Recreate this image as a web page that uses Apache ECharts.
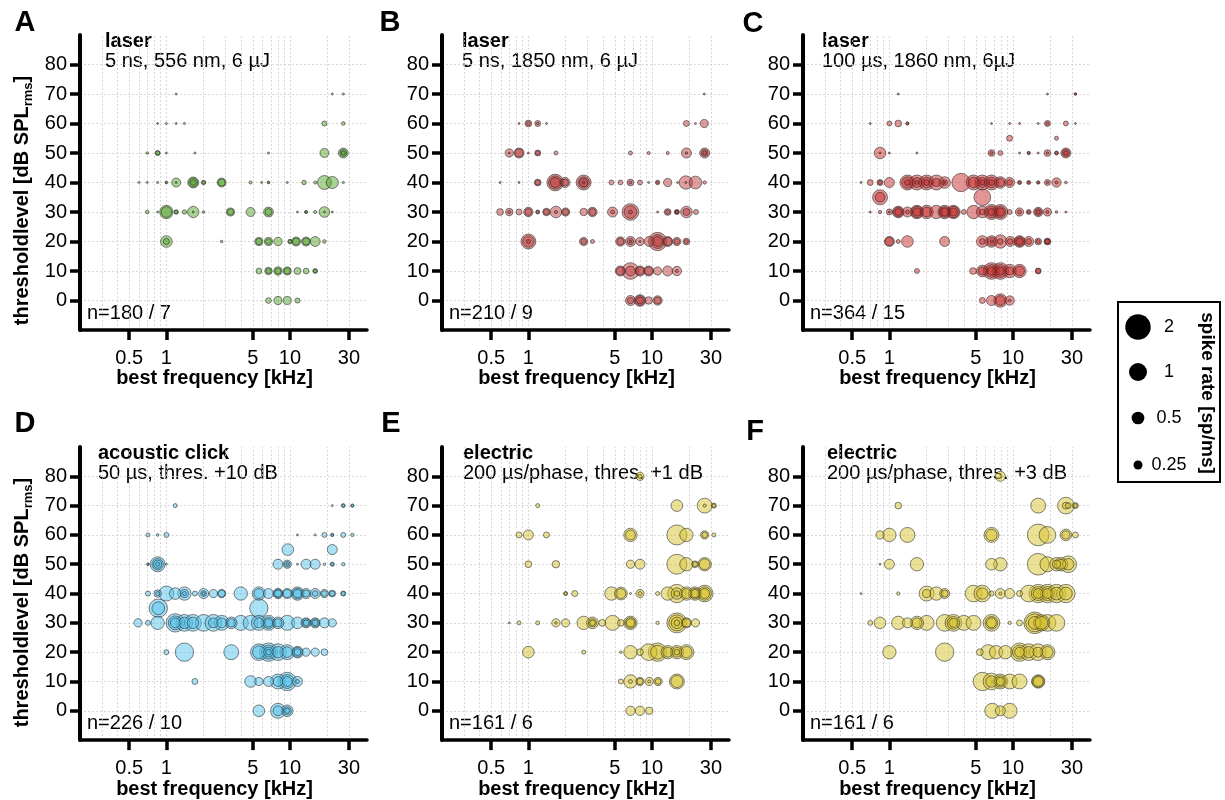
<!DOCTYPE html>
<html><head><meta charset="utf-8">
<script src="https://cdn.jsdelivr.net/npm/echarts@6/dist/echarts.min.js"></script>
<style>html,body{margin:0;padding:0;background:#fff}#c{width:1225px;height:800px}</style>
</head><body><div id="c"></div>
<script>
// ---------- data ----------
const xTicks = [0.5, 1, 5, 10, 30];
const yTicks = [0, 10, 20, 30, 40, 50, 60, 70, 80];
const gridFreqs = [0.3,0.4,0.5,0.6,0.7,0.8,0.9,1,2,3,4,5,6,7,8,9,10,20,30];
const panelLetters = ['A','B','C','D','E','F'];
const panelTitles = ['laser','laser','laser','acoustic click','electric','electric'];
const panelSubtitles = ['5 ns, 556 nm, 6 µJ','5 ns, 1850 nm, 6 µJ','100 µs, 1860 nm, 6µJ','50 µs, thres. +10 dB','200 µs/phase, thres. +1 dB','200 µs/phase, thres. +3 dB'];
const panelCounts = ['n=180 / 7','n=210 / 9','n=364 / 15','n=226 / 10','n=161 / 6','n=161 / 6'];
const legendRates = [2, 1, 0.5, 0.25];
const legendLabels = ['2','1','0.5','0.25'];

// [best frequency kHz, threshold dB, spike rate sp/ms]
const laser556 = [
[1.2,70,0.01],[22,70,0.01],[27,70,0.015],
[0.85,60,0.01],[1.0,60,0.012],[1.2,60,0.012],[1.4,60,0.015],[19,60,0.08],[27,60,0.04],
[0.7,50,0.02],[0.85,50,0.08],[0.85,50,0.05],[1.0,50,0.012],[1.7,50,0.012],[6.7,50,0.005],[19,50,0.25],[27,50,0.3],[27,50,0.15],[27,50,0.05],
[0.6,40,0.005],[0.7,40,0.01],[0.85,40,0.015],[1.0,40,0.02],[1.0,40,0.01],[1.2,40,0.25],[1.2,40,0.005],[1.65,40,0.37],[1.65,40,0.25],[1.65,40,0.1],[2.0,40,0.06],[2.0,40,0.03],[2.8,40,0.25],[2.8,40,0.15],[4.8,40,0.03],[5.9,40,0.005],[6.7,40,0.02],[6.7,40,0.015],[9.5,40,0.005],[13,40,0.06],[16,40,0.03],[19,40,0.6],[22,40,0.45],[27,40,0.015],
[0.7,30,0.04],[0.85,30,0.01],[1.0,30,0.55],[1.0,30,0.35],[1.2,30,0.06],[1.2,30,0.04],[1.4,30,0.06],[1.65,30,0.4],[1.65,30,0.005],[2.0,30,0.02],[3.3,30,0.2],[3.3,30,0.12],[4.8,30,0.25],[6.7,30,0.3],[6.7,30,0.15],[11.5,30,0.01],[13.5,30,0.03],[13.5,30,0.02],[16,30,0.03],[19,30,0.35],[19,30,0.005],[22,30,0.01],
[1.0,20,0.42],[1.0,20,0.12],[2.8,20,0.02],[5.6,20,0.2],[5.6,20,0.12],[6.7,20,0.2],[6.7,20,0.1],[8,20,0.22],[10,20,0.06],[10,20,0.04],[11.2,20,0.25],[11.2,20,0.15],[13.5,20,0.25],[13.5,20,0.15],[16,20,0.3],[19,20,0.04],
[5.6,10,0.1],[6.7,10,0.17],[6.7,10,0.08],[8,10,0.22],[8,10,0.12],[9.5,10,0.2],[9.5,10,0.12],[11.5,10,0.15],[13.5,10,0.1],[16,10,0.07],[16,10,0.04],
[6.7,0,0.1],[8,0,0.2],[9.5,0,0.2],[11.5,0,0.08]
];
const laser1850 = [
[26.5,70,0.008],
[0.84,60,0.008],[1.0,60,0.14],[1.0,60,0.05],[1.19,60,0.11],[1.19,60,0.02],[1.4,60,0.012],[19,60,0.11],[22.5,60,0.008],[26.5,60,0.21],
[0.7,50,0.21],[0.7,50,0.01],[0.84,50,0.31],[0.84,50,0.2],[1.0,50,0.01],[1.19,50,0.11],[1.19,50,0.06],[1.67,50,0.05],[6.7,50,0.05],[9.4,50,0.03],[13.4,50,0.03],[19,50,0.31],[19,50,0.02],[26.7,50,0.31],[26.7,50,0.15],[26.7,50,0.05],
[0.59,40,0.006],[0.84,40,0.006],[1.19,40,0.14],[1.19,40,0.08],[1.65,40,0.86],[1.65,40,0.55],[1.65,40,0.3],[1.98,40,0.31],[1.98,40,0.15],[2.8,40,0.69],[2.8,40,0.4],[2.8,40,0.2],[2.8,40,0.02],[4.7,40,0.077],[5.55,40,0.07],[6.7,40,0.14],[6.7,40,0.03],[8,40,0.077],[9.4,40,0.012],[11.1,40,0.06],[11.1,40,0.02],[13.4,40,0.21],[16.1,40,0.01],[18.8,40,0.55],[18.8,40,0.01],[22.5,40,0.5],[26.7,40,0.034],
[0.59,30,0.14],[0.7,30,0.17],[0.7,30,0.03],[0.84,30,0.11],[1.0,30,0.27],[1.0,30,0.15],[1.19,30,0.05],[1.19,30,0.03],[1.4,30,0.17],[1.4,30,0.1],[1.67,30,0.42],[1.67,30,0.03],[2.0,30,0.21],[2.0,30,0.12],[2.8,30,0.17],[3.3,30,0.27],[3.3,30,0.15],[4.8,30,0.31],[4.8,30,0.05],[6.7,30,0.86],[6.7,30,0.5],[6.7,30,0.05],[11.1,30,0.012],[13.4,30,0.14],[13.4,30,0.06],[15.9,30,0.077],[15.9,30,0.05],[15.9,30,0.03],[19,30,0.42],[19,30,0.15],[22.7,30,0.077],
[1.0,20,0.69],[1.0,20,0.4],[1.0,20,0.05],[2.8,20,0.21],[2.8,20,0.1],[3.3,20,0.05],[5.55,20,0.27],[5.55,20,0.15],[6.7,20,0.31],[6.7,20,0.12],[6.7,20,0.02],[8,20,0.21],[8,20,0.01],[9.5,20,0.31],[11.1,20,1.04],[11.1,20,0.6],[11.1,20,0.3],[13.4,20,0.31],[13.4,20,0.2],[15.9,20,0.21],[15.9,20,0.1],[19,20,0.14],[19,20,0.05],
[5.55,10,0.31],[5.55,10,0.2],[6.7,10,0.86],[6.7,10,0.3],[8,10,0.31],[8,10,0.2],[9.4,10,0.31],[9.4,10,0.2],[11.1,10,0.21],[13.4,10,0.31],[15.9,10,0.27],[15.9,10,0.03],
[6.7,0,0.31],[6.7,0,0.12],[8,0,0.42],[8,0,0.3],[8,0,0.15],[9.4,0,0.17],[11.1,0,0.27],[11.1,0,0.15]
];
const laser1860 = [
[1.18,70,0.006],[19,70,0.006],[32,70,0.022],[32,70,0.01],
[0.7,60,0.005],[1.0,60,0.077],[1.18,60,0.14],[1.4,60,0.034],[1.4,60,0.02],[6.7,60,0.008],[9.4,60,0.008],[11.3,60,0.005],[16,60,0.005],[19,60,0.11],[19,60,0.03],[26.8,60,0.077],[32,60,0.01],
[9.4,55,0.11],[22.5,55,0.05],
[0.84,50,0.42],[0.84,50,0.005],[1.0,50,0.01],[1.67,50,0.012],[6.7,50,0.14],[6.7,50,0.03],[7.9,50,0.077],[11.3,50,0.005],[13.4,50,0.034],[13.4,50,0.02],[16,50,0.01],[19,50,0.14],[19,50,0.02],[22.5,50,0.05],[22.5,50,0.03],[26.8,50,0.31],[26.8,50,0.17],[26.8,50,0.06],
[0.59,40,0.005],[0.7,40,0.11],[0.84,40,0.11],[0.84,40,0.05],[1.0,40,0.31],[1.4,40,0.69],[1.4,40,0.4],[1.4,40,0.1],[1.67,40,0.69],[1.67,40,0.3],[1.67,40,0.05],[2.0,40,0.69],[2.0,40,0.35],[2.0,40,0.1],[2.4,40,0.69],[2.4,40,0.2],[2.8,40,0.42],[2.8,40,0.1],[2.8,40,0.01],[3.8,40,1.04],[4.8,40,0.69],[4.8,40,0.35],[5.65,40,0.69],[5.65,40,0.3],[5.65,40,0.08],[6.7,40,0.69],[6.7,40,0.35],[6.7,40,0.1],[7.9,40,0.42],[7.9,40,0.2],[9.4,40,0.31],[9.4,40,0.1],[11.3,40,0.05],[11.3,40,0.03],[13.4,40,0.05],[13.4,40,0.02],[16,40,0.034],[16,40,0.02],[19,40,0.11],[19,40,0.02],[22.5,40,0.27],[22.5,40,0.03],[26.8,40,0.022],
[0.84,35,0.69],[0.84,35,0.3],[5.65,35,0.86],
[0.7,30,0.005],[0.84,30,0.034],[1.0,30,0.11],[1.0,30,0.01],[1.18,30,0.42],[1.18,30,0.3],[1.18,30,0.15],[1.4,30,0.31],[1.4,30,0.05],[1.67,30,0.55],[1.67,30,0.4],[1.67,30,0.2],[2.0,30,0.55],[2.0,30,0.3],[2.4,30,0.55],[2.8,30,0.55],[2.8,30,0.35],[2.8,30,0.2],[3.3,30,0.55],[3.3,30,0.4],[3.3,30,0.2],[4.0,30,0.077],[4.8,30,0.55],[5.65,30,0.42],[5.65,30,0.1],[6.7,30,0.69],[6.7,30,0.4],[6.7,30,0.15],[7.9,30,0.69],[7.9,30,0.4],[7.9,30,0.2],[9.4,30,0.077],[11.3,30,0.21],[11.3,30,0.05],[13.4,30,0.077],[13.4,30,0.03],[16,30,0.27],[16,30,0.15],[16,30,0.05],[19,30,0.21],[19,30,0.03],[22.5,30,0.022],[26.8,30,0.01],
[1.0,20,0.31],[1.0,20,0.2],[1.18,20,0.05],[1.4,20,0.42],[2.8,20,0.31],[5.65,20,0.42],[5.65,20,0.1],[6.7,20,0.42],[6.7,20,0.2],[6.7,20,0.03],[7.9,20,0.55],[7.9,20,0.1],[9.5,20,0.31],[9.5,20,0.1],[11.3,20,0.42],[11.3,20,0.3],[11.3,20,0.15],[13.4,20,0.31],[13.4,20,0.1],[16,20,0.14],[16,20,0.05],[19,20,0.14],[19,20,0.1],[19,20,0.06],
[1.67,10,0.077],[4.75,10,0.14],[5.65,10,0.42],[5.65,10,0.2],[6.7,10,0.86],[6.7,10,0.5],[6.7,10,0.2],[7.9,10,0.86],[7.9,10,0.5],[7.9,10,0.2],[9.4,10,0.55],[9.4,10,0.2],[11.3,10,0.55],[11.3,10,0.3],[16,10,0.11],[16,10,0.07],
[5.65,0,0.11],[6.7,0,0.31],[7.9,0,0.55],[7.9,0,0.3],[9.4,0,0.27],[9.4,0,0.02]
];
const acousticClick = [
[1.18,70,0.05],[22,70,0.012],[27,70,0.05],[27,70,0.02],[32,70,0.034],[32,70,0.02],
[0.71,60,0.05],[0.85,60,0.022],[1.0,60,0.077],[11.5,60,0.012],[16,60,0.012],[19,60,0.077],[22,60,0.034],[22,60,0.02],[27,60,0.077],[32,60,0.034],
[9.6,55,0.42],[22,55,0.31],
[0.71,50,0.02],[0.71,50,0.01],[0.85,50,0.69],[0.85,50,0.4],[0.85,50,0.2],[0.85,50,0.05],[1.0,50,0.012],[8,50,0.31],[9.5,50,0.21],[9.5,50,0.1],[9.5,50,0.02],[11.5,50,0.012],[13.5,50,0.31],[16,50,0.31],[19,50,0.022],[22,50,0.05],[22,50,0.03],[27,50,0.034],
[0.71,40,0.077],[0.85,40,0.17],[0.85,40,0.05],[1.0,40,0.69],[1.18,40,0.42],[1.4,40,0.55],[1.4,40,0.2],[1.4,40,0.05],[1.7,40,0.077],[2.0,40,0.31],[2.0,40,0.1],[2.0,40,0.03],[2.4,40,0.21],[2.8,40,0.21],[2.8,40,0.15],[4.0,40,0.55],[5.6,40,0.55],[5.6,40,0.3],[6.7,40,0.31],[8,40,0.31],[8,40,0.25],[8,40,0.15],[9.5,40,0.31],[9.5,40,0.2],[11.5,40,0.55],[11.5,40,0.35],[11.5,40,0.2],[13.5,40,0.31],[13.5,40,0.15],[16,40,0.31],[16,40,0.1],[19,40,0.21],[19,40,0.1],[22,40,0.14],[22,40,0.08],[27,40,0.077],[27,40,0.05],
[0.86,35,1.04],[0.86,35,0.5],[5.6,35,1.04],
[0.59,30,0.21],[0.71,30,0.077],[0.85,30,0.55],[1.18,30,1.04],[1.18,30,0.6],[1.18,30,0.3],[1.4,30,0.86],[1.4,30,0.4],[1.64,30,0.86],[1.64,30,0.4],[2.0,30,0.86],[2.4,30,0.86],[2.4,30,0.3],[2.8,30,0.69],[2.8,30,0.3],[3.35,30,0.42],[3.35,30,0.2],[4.0,30,0.69],[4.8,30,0.69],[5.6,30,0.69],[5.6,30,0.3],[6.7,30,0.69],[6.7,30,0.4],[6.7,30,0.2],[8,30,0.42],[8,30,0.2],[9.5,30,0.69],[11.5,30,0.42],[13.5,30,0.31],[13.5,30,0.2],[13.5,30,0.1],[16,30,0.31],[16,30,0.2],[16,30,0.1],[19,30,0.31],[22,30,0.21],
[1.0,20,0.077],[1.4,20,1.04],[3.35,20,0.69],[5.6,20,0.86],[5.6,20,0.5],[6.7,20,1.04],[6.7,20,0.6],[6.7,20,0.3],[6.7,20,0.1],[8,20,0.86],[8,20,0.4],[9.5,20,0.69],[9.5,20,0.35],[11.5,20,0.42],[11.5,20,0.3],[11.5,20,0.15],[13.5,20,0.21],[16,20,0.21],[19,20,0.14],
[1.7,10,0.11],[4.8,10,0.42],[5.6,10,0.21],[6.7,10,0.31],[8,10,0.69],[8,10,0.3],[9.5,10,1.04],[9.5,10,0.6],[9.5,10,0.3],[11.5,10,0.31],[11.5,10,0.05],
[5.6,0,0.42],[8,0,0.69],[8,0,0.3],[9.5,0,0.42],[9.5,0,0.2],[9.5,0,0.08]
];
const electric1dB = [
[8,80,0.21],[8,80,0.05],
[1.19,70,0.05],[15.9,70,0.42],[26.7,70,0.69],[26.7,70,0.03],[31.7,70,0.077],[31.7,70,0.04],
[0.84,60,0.11],[1.0,60,0.31],[1.4,60,0.11],[6.7,60,0.55],[6.7,60,0.3],[15.9,60,1.23],[19,60,0.55],[26.7,60,0.21],[26.7,60,0.1],[31.7,60,0.05],
[1.0,50,0.14],[1.67,50,0.17],[6.7,50,0.21],[8,50,0.31],[15.9,50,1.23],[19,50,0.55],[22.3,50,0.14],[22.3,50,0.07],[26.7,50,0.55],[26.7,50,0.35],
[2.0,40,0.05],[2.0,40,0.03],[2.37,40,0.11],[4.7,40,0.55],[5.6,40,0.5],[5.6,40,0.3],[6.7,40,0.01],[8,40,0.21],[8,40,0.05],[11.1,40,0.05],[13.4,40,0.55],[15.9,40,1.04],[15.9,40,0.4],[15.9,40,0.1],[19,40,0.55],[19,40,0.3],[22.3,40,0.55],[22.3,40,0.35],[22.3,40,0.2],[26.7,40,0.86],[26.7,40,0.55],[26.7,40,0.3],
[0.7,30,0.005],[0.84,30,0.05],[1.19,30,0.05],[1.67,30,0.21],[1.67,30,0.02],[2.0,30,0.21],[2.8,30,0.55],[3.3,30,0.42],[3.3,30,0.2],[3.3,30,0.1],[3.95,30,0.14],[4.8,30,0.69],[5.6,30,0.14],[6.7,30,0.55],[6.7,30,0.35],[6.7,30,0.2],[11.1,30,0.034],[15.9,30,1.23],[15.9,30,0.8],[15.9,30,0.4],[15.9,30,0.1],[19,30,0.31],[19,30,0.2],[22.5,30,0.21],
[1.0,20,0.42],[2.8,20,0.05],[5.6,20,0.02],[6.7,20,0.55],[8,20,0.14],[9.4,20,0.86],[11.1,20,1.04],[11.1,20,0.6],[13.4,20,0.55],[13.4,20,0.3],[15.9,20,0.55],[15.9,20,0.3],[15.9,20,0.1],[19,20,0.69],[19,20,0.4],
[5.6,10,0.077],[6.7,10,0.55],[6.7,10,0.05],[8,10,0.21],[8,10,0.12],[9.5,10,0.21],[9.5,10,0.03],[11.2,10,0.21],[11.2,10,0.1],[15.9,10,0.69],[15.9,10,0.45],
[6.7,0,0.27],[8,0,0.27],[9.5,0,0.17]
];
const electric3dB = [
[7.9,80,0.31],
[1.18,70,0.14],[16,70,0.69],[26.8,70,0.86],[26.8,70,0.15],[28,70,0.1],[32,70,0.11],[32,70,0.05],
[0.84,60,0.21],[1.0,60,0.55],[1.4,60,0.69],[6.7,60,0.69],[6.7,60,0.4],[16,60,1.45],[19,60,0.86],[26.8,60,0.42],[26.8,60,0.2],[32,60,0.11],
[0.84,50,0.01],[1.0,50,0.31],[1.67,50,0.55],[6.7,50,0.42],[7.9,50,0.55],[16,50,1.45],[19,50,0.69],[22.5,50,0.55],[22.5,50,0.2],[24.5,50,0.55],[24.5,50,0.3],[28,50,0.86],[28,50,0.4],
[0.59,40,0.005],[1.18,40,0.034],[2.0,40,0.69],[2.0,40,0.2],[2.4,40,0.55],[2.8,40,0.31],[2.8,40,0.15],[4.8,40,0.86],[5.65,40,0.86],[5.65,40,0.4],[6.7,40,0.077],[7.9,40,0.31],[7.9,40,0.03],[9.4,40,0.31],[11.3,40,0.11],[13.4,40,0.86],[16,40,1.04],[16,40,0.6],[16,40,0.3],[19,40,1.04],[19,40,0.6],[19,40,0.3],[22.5,40,1.04],[22.5,40,0.5],[26.8,40,1.04],[26.8,40,0.5],
[0.7,30,0.077],[0.84,30,0.42],[1.18,30,0.55],[1.4,30,0.31],[1.67,30,0.55],[1.67,30,0.3],[2.0,30,0.69],[2.8,30,0.86],[3.3,30,0.86],[3.3,30,0.5],[3.3,30,0.25],[4.0,30,0.69],[4.8,30,0.69],[6.7,30,0.86],[6.7,30,0.5],[6.7,30,0.3],[9.4,30,0.034],[11.3,30,0.11],[15,30,1.45],[15,30,1.0],[15,30,0.5],[17,30,0.8],[17,30,0.5],[19,30,0.86],[22.5,30,0.86],
[1.0,20,0.55],[2.8,20,1.04],[5.4,20,0.14],[6.3,20,0.69],[7.3,20,0.55],[8.7,20,0.55],[11.3,20,1.04],[11.3,20,0.6],[11.3,20,0.3],[13.4,20,0.86],[13.4,20,0.4],[15.9,20,0.86],[15.9,20,0.3],[19,20,0.69],[19,20,0.4],
[5.65,10,1.04],[6.7,10,0.86],[6.7,10,0.4],[7.9,10,0.69],[7.9,10,0.4],[7.9,10,0.2],[9.4,10,0.69],[11.3,10,0.69],[16,10,0.55],[16,10,0.45],[16,10,0.3],
[6.8,0,0.69],[7.9,0,0.31],[9.4,0,0.69]
];
const panelData = [laser556, laser1850, laser1860, acousticClick, electric1dB, electric3dB];
const panelColors = ['rgba(85,165,45,0.5)','rgba(189,62,62,0.5)','rgba(200,45,45,0.5)','rgba(85,195,235,0.5)','rgba(215,195,45,0.5)','rgba(215,195,45,0.5)'];

// ---------- layout ----------
const FONT = '"Liberation Sans", Arial, sans-serif';
const gridLefts = [80, 442, 803];
const gridTops = [35, 447];
const gridHeights = [295, 294];
const gridWidth = 287;
const sizeOf = r => Math.max(2, 18 * Math.sqrt(r));

const grids = [], xAxes = [], yAxes = [], series = [], graphics = [];
for (let i = 0; i < 6; i++) {
  const col = i % 3, row = Math.floor(i / 3);
  const L = gridLefts[col], T = gridTops[row];
  grids.push({left: L, top: T, width: gridWidth, height: gridHeights[row], containLabel: false});
  xAxes.push({
    type: 'log', logBase: 10, gridIndex: i, min: 0.2, max: 42, z: 10,
    axisLine: {onZero: false, lineStyle: {color: '#000', width: 3.5, type: 'solid'}},
    axisTick: {show: true, length: 10, lineStyle: {color: '#000', width: 3.5, type: 'solid'}, customValues: xTicks},
    axisLabel: {color: '#000', fontSize: 20, fontFamily: FONT, margin: 18, customValues: xTicks, formatter: v => String(v)},
    splitLine: {show: false}, minorTick: {show: false}, minorSplitLine: {show: false},
    name: 'best frequency [kHz]', nameLocation: 'middle', nameGap: 38,
    nameTextStyle: {color: '#000', fontSize: 20, fontWeight: 'bold', fontFamily: FONT, padding: [0, 18, 0, 0]}
  });
  yAxes.push({
    type: 'value', gridIndex: i, min: -10, max: 90, interval: 10, z: 10,
    axisLine: {show: true, onZero: false, lineStyle: {color: '#000', width: 4, type: 'solid'}},
    axisTick: {show: true, length: 10, lineStyle: {color: '#000', width: 3.5, type: 'solid'}, customValues: yTicks},
    axisLabel: {color: '#000', fontSize: 20, fontFamily: FONT, margin: 13, customValues: yTicks},
    splitLine: {show: false}, minorSplitLine: {show: false},
    name: col === 0 ? '{b|thresholdlevel [dB SPL}{s|rms}{b|]}' : '',
    nameLocation: 'middle', nameRotate: 90, nameGap: 45,
    nameTextStyle: {color: '#000', padding: [0, row === 0 ? 36 : 18, 0, 0], rich: {
      b: {fontSize: 20, fontWeight: 'bold', fontFamily: FONT, color: '#000'},
      s: {fontSize: 13, fontWeight: 'bold', fontFamily: FONT, color: '#000', verticalAlign: 'bottom', lineHeight: 26}
    }}
  });
  // grid lines
  series.push({
    type: 'scatter', xAxisIndex: i, yAxisIndex: i, data: [], z: 1, silent: true,
    markLine: {
      silent: true, symbol: ['none','none'], animation: false, z: 1,
      label: {show: false},
      lineStyle: {color: '#cfcfcf', width: 0.8, type: [2, 2]},
      emphasis: {disabled: true},
      data: gridFreqs.map(v => ({xAxis: v})).concat(yTicks.map(v => ({yAxis: v})))
    }
  });
  const pts = panelData[i].slice().sort((a, b) => b[2] - a[2]);
  series.push({
    type: 'scatter', xAxisIndex: i, yAxisIndex: i, z: 2, silent: true,
    data: pts, symbolSize: d => sizeOf(d[2]),
    itemStyle: {color: panelColors[i], borderColor: 'rgba(35,35,35,0.7)', borderWidth: 0.8, opacity: 1},
    emphasis: {disabled: true}, animation: false
  });
  // texts
  const letterPos = [[25,23],[390,23],[753,24],[25,424],[391,424],[755,432]][i];
  graphics.push({type: 'text', x: letterPos[0], y: letterPos[1], style: {text: panelLetters[i], fill: '#000', font: 'bold 29px ' + FONT, align: 'center', verticalAlign: 'middle'}});
  const tx = L + [25, 20, 19][col] + (row === 1 ? [-7, 1, 5][col] : 0);
  const ty = row === 0 ? 41 : 453;
  graphics.push({type: 'text', x: tx, y: ty, style: {text: panelTitles[i], fill: '#000', font: 'bold 20px ' + FONT, verticalAlign: 'middle'}});
  graphics.push({type: 'text', x: tx, y: ty + 20, style: {text: panelSubtitles[i], fill: '#000', font: '20px ' + FONT, verticalAlign: 'middle'}});
  graphics.push({type: 'text', x: L + 7, y: row === 0 ? 313 : 723, style: {text: panelCounts[i], fill: '#000', font: '20px ' + FONT, verticalAlign: 'middle'}});
}
// legend box
graphics.push({type: 'rect', shape: {x: 1118, y: 302, width: 102, height: 180}, style: {fill: '#fff', stroke: '#000', lineWidth: 2}, z: 10});
const legendY = [327, 372, 418, 465];
legendRates.forEach((r, k) => {
  graphics.push({type: 'circle', shape: {cx: 1138, cy: legendY[k], r: sizeOf(r) / 2}, style: {fill: '#000'}, z: 11});
  graphics.push({type: 'text', x: 1169, y: legendY[k], style: {text: legendLabels[k], fill: '#000', font: '18px ' + FONT, align: 'center', verticalAlign: 'middle'}, z: 11});
});
graphics.push({type: 'text', x: 1207, y: 393, rotation: -Math.PI / 2, style: {text: 'spike rate [sp/ms]', fill: '#000', font: 'bold 19px ' + FONT, align: 'center', verticalAlign: 'middle'}, z: 11});

const chart = echarts.init(document.getElementById('c'), null, {renderer: 'canvas'});
chart.setOption({
  animation: false, backgroundColor: '#fff',
  grid: grids, xAxis: xAxes, yAxis: yAxes, series: series, graphic: graphics
});
</script></body></html>
